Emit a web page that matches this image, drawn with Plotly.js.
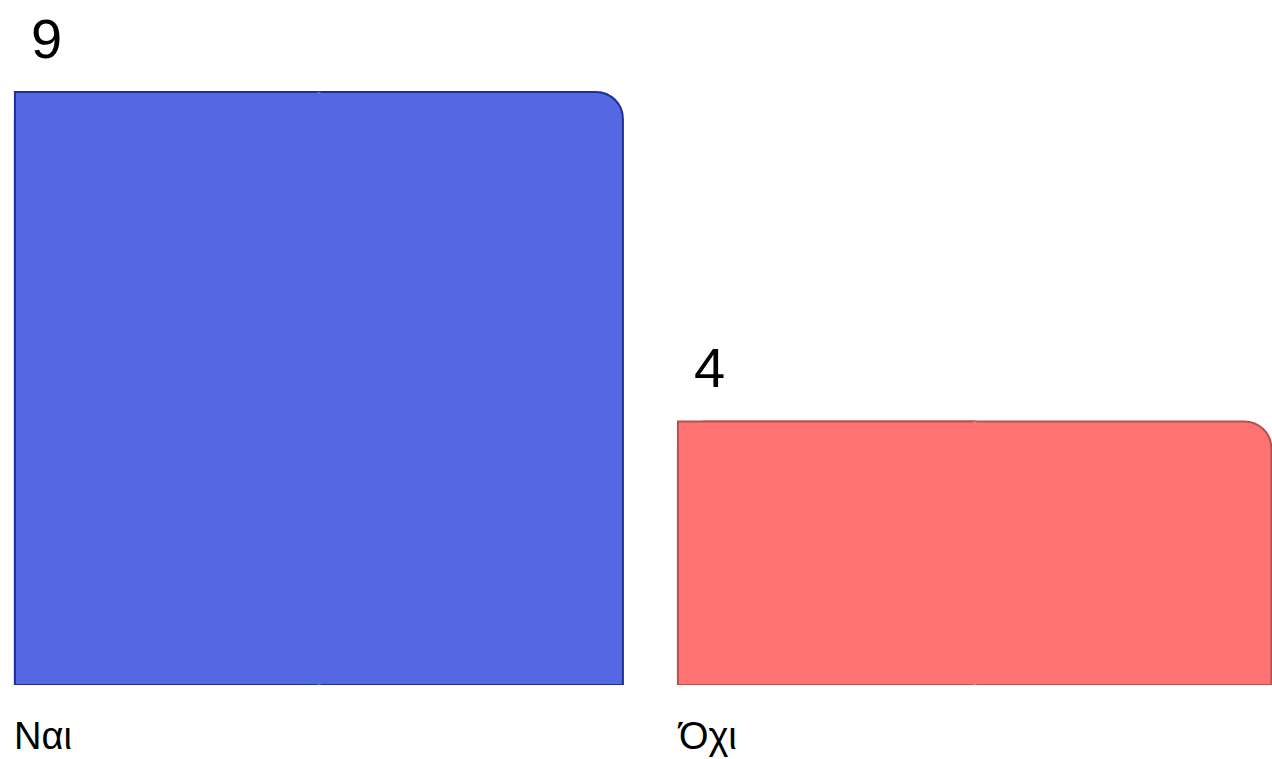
<!DOCTYPE html>
<html>
<head>
<meta charset="utf-8">
<script src="https://cdn.plot.ly/plotly-3.0.1.min.js"></script>
<style>html,body{margin:0;padding:0;background:#fff;}#chart{width:1272px;height:759px;}</style>
</head>
<body>
<div id="chart"></div>
<script>
// Data
const categories = ["Ναι", "Όχι"];
const values = [9, 4];

// Styles
const fillColors = ["#5468e4", "#ff7373"];
const lineColors = ["#1f2e96", "#b85252"];
const barWidths = [0.917, 0.895];
const barOffset = -0.4585;
const seamWidth = 0.005;
const positions = categories.map((c, i) => i);

const font = "Liberation Sans, Arial, sans-serif";

// Layer A: full bar with rounded top corners
const main = {
  type: "bar",
  x: positions,
  y: values,
  width: barWidths,
  offset: barOffset,
  marker: { color: fillColors, line: { color: lineColors, width: 2 }, cornerradius: 27 },
  hovertext: categories,
  showlegend: false
};
// Layer B: left half with square corners (restores the square top-left corner)
const leftHalf = {
  type: "bar",
  x: positions,
  y: values,
  width: barWidths.map(w => w / 2),
  offset: barOffset,
  marker: { color: fillColors, line: { color: lineColors, width: 2 } },
  hoverinfo: "skip",
  showlegend: false
};
// Layer C: thin borderless strip hiding the seam of layer B
const seam = {
  type: "bar",
  x: positions,
  y: values,
  width: seamWidth,
  offset: barWidths.map(w => barOffset + w / 2 - seamWidth / 2),
  marker: { color: fillColors, line: { width: 0 } },
  hoverinfo: "skip",
  showlegend: false
};

const annotations = [];
values.forEach((v, i) => {
  annotations.push({
    x: positions[i] + barOffset, y: v, xref: "x", yref: "y",
    text: String(v), showarrow: false, xanchor: "left", yanchor: "bottom",
    xshift: 14, yshift: 20,
    font: { family: font, size: 56, color: "#000" }
  });
  annotations.push({
    x: positions[i] + barOffset, y: 0, xref: "x", yref: "y",
    text: categories[i], showarrow: false, xanchor: "left", yanchor: "top",
    xshift: -3, yshift: -28,
    font: { family: font, size: 38, color: "#000" }
  });
});

const layout = {
  width: 1272, height: 759,
  margin: { l: 0, r: 0, t: 0, b: 74 },
  paper_bgcolor: "#fff", plot_bgcolor: "#fff",
  barmode: "overlay",
  xaxis: { range: [-0.481, 1.4375], showgrid: false, zeroline: false, showticklabels: false, ticks: "", showline: false },
  yaxis: { range: [0, 685 / 65.9], showgrid: false, zeroline: false, showticklabels: false, ticks: "", showline: false },
  annotations: annotations,
  showlegend: false
};

Plotly.newPlot("chart", [main, leftHalf, seam], layout, { displayModeBar: false, staticPlot: true });
</script>
</body>
</html>
